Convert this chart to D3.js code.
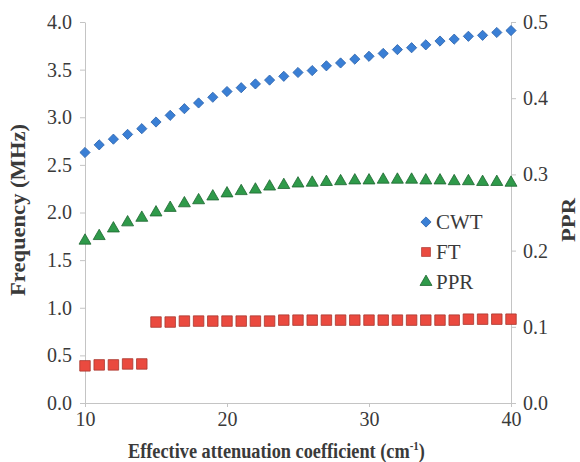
<!DOCTYPE html>
<html><head><meta charset="utf-8">
<script src="https://cdn.jsdelivr.net/npm/d3@7"></script>
<style>
body{margin:0;background:#fff;}
svg{display:block;font-family:"Liberation Serif","Times New Roman",serif;}
</style></head>
<body><svg id="c" width="580" height="462"></svg>
<script>
const xVals = [10,11,12,13,14,15,16,17,18,19,20,21,22,23,24,25,26,27,28,29,30,31,32,33,34,35,36,37,38,39,40];
const cwt = [2.63,2.71,2.77,2.82,2.88,2.95,3.02,3.09,3.15,3.21,3.27,3.31,3.35,3.39,3.43,3.47,3.49,3.54,3.57,3.61,3.64,3.67,3.71,3.73,3.76,3.80,3.82,3.85,3.86,3.89,3.91];
const ft = [0.39,0.40,0.40,0.41,0.41,0.85,0.85,0.86,0.86,0.86,0.86,0.86,0.86,0.86,0.87,0.87,0.87,0.87,0.87,0.87,0.87,0.87,0.87,0.87,0.87,0.87,0.87,0.88,0.88,0.88,0.88];
const ppr = [0.213,0.219,0.229,0.237,0.243,0.250,0.256,0.262,0.266,0.271,0.275,0.278,0.280,0.284,0.286,0.288,0.289,0.290,0.291,0.292,0.292,0.293,0.293,0.293,0.292,0.292,0.291,0.291,0.290,0.290,0.289];
const xTicks = [10,20,30,40];
const yLeftTicks = [0,0.5,1.0,1.5,2.0,2.5,3.0,3.5,4.0];
const yRightTicks = [0,0.1,0.2,0.3,0.4,0.5];
const seriesNames = ["CWT","FT","PPR"];

const svg = d3.select("#c");
const x = d3.scaleLinear().domain([10,40]).range([85,511]);
const yL = d3.scaleLinear().domain([0,4]).range([403,22]);
const yR = d3.scaleLinear().domain([0,0.5]).range([403,22]);
const txt = "#3a3a3a", axisCol = "#c4c4c4";
const serif = '"Liberation Serif","Times New Roman",serif';

function styleAxis(g){
  g.attr("font-family", serif).attr("font-size", 20);
  g.selectAll("path.domain").attr("stroke",axisCol).attr("stroke-width",1);
  g.selectAll(".tick line").attr("stroke",axisCol);
  g.selectAll(".tick text").attr("fill",txt);
}

const gx = svg.append("g").attr("transform","translate(0,403)")
  .call(d3.axisBottom(x).tickValues(xTicks).tickFormat(d3.format("d")).tickSizeInner(4).tickSizeOuter(0).tickPadding(5));
styleAxis(gx);
const gl = svg.append("g").attr("transform","translate(85,0)")
  .call(d3.axisLeft(yL).tickValues(yLeftTicks).tickFormat(d3.format(".1f")).tickSizeInner(5).tickSizeOuter(0).tickPadding(8));
styleAxis(gl);
const gr = svg.append("g").attr("transform","translate(511,0)")
  .call(d3.axisRight(yR).tickValues(yRightTicks).tickFormat(d3.format(".1f")).tickSizeInner(5).tickSizeOuter(0).tickPadding(7));
styleAxis(gr);

const data = xVals.map((v,i)=>({x:v,cwt:cwt[i],ft:ft[i],ppr:ppr[i]}));

const sym = {
  CWT: d3.symbol().type(d3.symbolSquare).size(52),
  FT: d3.symbol().type(d3.symbolSquare).size(110),
  PPR: d3.symbol().type(d3.symbolTriangle).size(62)
};
const styles = {
  CWT:{fill:"#3a7fd5",stroke:"#2f66ad",rot:45},
  FT:{fill:"#ea4a3f",stroke:"#a8372f",rot:0},
  PPR:{fill:"#2f9a4a",stroke:"#1d6630",rot:0}
};

function drawSeries(name, accessor, yScale){
  const s = styles[name];
  svg.append("g").selectAll("path").data(data).join("path")
    .attr("d", sym[name]())
    .attr("transform", d=>`translate(${x(d.x)},${yScale(accessor(d))}) rotate(${s.rot})`)
    .attr("fill", s.fill).attr("stroke", s.stroke).attr("stroke-width",0.8);
}
drawSeries("PPR", d=>d.ppr, yR);
drawSeries("FT", d=>d.ft, yL);
drawSeries("CWT", d=>d.cwt, yL);

// legend
const lg = svg.append("g").attr("font-family", serif);
seriesNames.forEach((n,i)=>{
  const yy = 222 + i*30;
  const s = styles[n];
  lg.append("path").attr("d", sym[n]()).attr("transform",`translate(426,${yy}) rotate(${s.rot}) scale(${n==="FT"?0.85:1})`)
    .attr("fill",s.fill).attr("stroke",s.stroke).attr("stroke-width",0.8);
  lg.append("text").attr("x",436).attr("y",yy+7).text(n).attr("fill",txt).attr("font-size",21);
});

// x axis title, scaled horizontally to reference width
const xtG = svg.append("g");
const xt = xtG.append("text").attr("x",0).attr("y",0)
  .attr("fill",txt).attr("font-family",serif).attr("font-size",20).attr("font-weight","bold");
xt.append("tspan").text("Effective attenuation coefficient (cm");
xt.append("tspan").attr("dy",-8).attr("font-size",12).text("-1");
xt.append("tspan").attr("dy",8).text(")");
const w = xt.node().getBBox().width;
const sx = 297 / w;
xtG.attr("transform",`translate(128,458) scale(${sx},1)`);

svg.append("text").attr("transform","translate(25,210) rotate(-90)").attr("text-anchor","middle")
  .attr("fill",txt).attr("font-family",serif).attr("font-size",21).attr("font-weight","bold")
  .attr("textLength",172).attr("lengthAdjust","spacingAndGlyphs")
  .text("Frequency (MHz)");

svg.append("text").attr("transform","translate(575,220) rotate(-90)").attr("text-anchor","middle")
  .attr("fill",txt).attr("font-family",serif).attr("font-size",19).attr("font-weight","bold")
  .attr("textLength",44).attr("lengthAdjust","spacingAndGlyphs")
  .text("PPR");
</script></body></html>
